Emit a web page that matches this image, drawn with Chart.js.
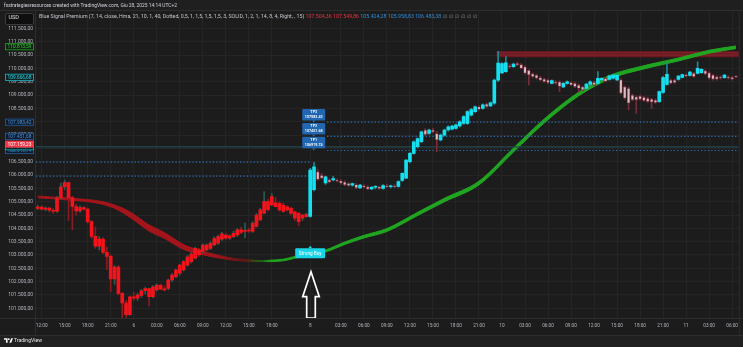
<!DOCTYPE html>
<html><head><meta charset="utf-8">
<script src="https://cdn.jsdelivr.net/npm/chart.js@4.4.1/dist/chart.umd.min.js"></script>
<style>
html,body{margin:0;padding:0;background:#1c1c1c;}
#wrap{position:relative;width:743px;height:347px;overflow:hidden;background:#1c1c1c;font-family:Roboto,"Noto Sans",sans-serif;}
#top{position:absolute;left:0;top:0;width:743px;height:11px;background:#1f1f1f;}
#foot{position:absolute;left:0;top:336px;width:743px;height:11px;background:#202020;}
#chart{position:absolute;left:0;top:0;}
.fit{position:absolute;left:0;top:0;white-space:nowrap;transform-origin:0 0;font-size:10px;line-height:1.2;display:inline-block;z-index:3;}
#usd{position:absolute;left:5px;top:12.5px;width:27px;height:10px;background:#0f0f0f;border:1px solid #3a3a3a;border-radius:2px;z-index:2;}
#logo{position:absolute;left:4px;top:338px;z-index:3;}
</style></head>
<body><div id="wrap">
<div id="top"></div><div id="foot"></div>
<canvas id="chart" width="743" height="347"></canvas>
<div id="usd"></div>
<div id="hdr" class="fit" style="color:#d1d4dc">fxstrategiesresources created with TradingView.com, Giu 28, 2025 14:14 UTC+2</div>
<div id="usdt" class="fit" style="color:#e0e0e0">USD</div>
<div id="legend" class="fit"></div>
<svg id="logo" width="9" height="5" viewBox="0 0 10 5"><path d="M0 0H4V5H2.2V1.6H0Z" fill="#fff"/><circle cx="5.3" cy="1" r="0.95" fill="#fff"/><path d="M6 5L8 0H10L8 5Z" fill="#fff"/></svg>
<div id="brand" class="fit" style="color:#e8e8e8">TradingView</div>
</div>
<script>
// ---------- DATA ----------
const candleOpen = [104750,104800,104720,104760,104680,104640,105140,105560,105720,105150,
104820,104650,104780,104720,104250,103700,103330,103600,103100,102950,
102100,102550,101560,101200,100760,101430,101380,101480,101660,101740,
101440,101690,101860,101720,101750,102060,102190,102320,102440,102620,
102750,102880,103190,103130,103190,103250,103380,103440,103590,103750,
103630,103690,103750,103940,103880,103920,103880,104070,104320,104570,
105000,104880,104960,104940,104870,104810,104750,104620,104560,104380,
104440,104450,105450,106120,105990,105700,105820,105820,105810,105780,
105740,105690,105620,105640,105520,105600,105560,105480,105540,105560,
105500,105600,105560,105590,105570,105800,105880,106500,106810,107060,
107250,107690,107560,107690,107560,107320,107500,107690,107720,107750,
107840,107940,107940,108250,108380,108560,108500,108660,108590,108700,
109560,109830,109880,110100,110070,110190,110150,110060,109930,109800,
109750,109660,109600,109560,109440,109500,109500,109310,109440,109470,
109440,109380,109310,109250,109400,109480,109440,109570,109630,109590,
109630,109570,109570,109315,109250,109000,108940,108960,108915,108880,
108850,108815,108750,109100,109400,109565,109565,109590,109665,109765,
109740,109815,109815,109840,109915,109840,109750,109690,109690,109650,
109690,109665,109700];
const candleHigh = [104870,104850,104820,104800,104740,105200,105700,105810,105740,105200,
104900,104850,104830,104760,104300,104050,103690,103650,103300,103000,
102600,102600,101600,101300,101460,101600,101560,101700,101800,101760,
101850,101920,101900,101830,102100,102300,102470,102650,102800,102980,
103100,103300,103250,103420,103420,103500,103680,103750,103850,103820,
103760,103900,104000,104050,104200,104000,104250,104550,104750,105380,
105100,105300,105150,105000,104950,104850,104800,104650,104600,104520,
104570,106250,106480,106200,106060,105960,105870,105950,105860,105820,
105780,105720,105700,105680,105650,105640,105600,105580,105600,105580,
105640,105650,105620,105640,105780,106080,106580,106850,107280,107400,
107650,107740,107720,107760,107640,107540,107720,107850,107870,107910,
108040,108230,108420,108500,108600,108600,108670,108700,108750,109600,
110640,110220,110440,110160,110200,110240,110180,110100,109960,109830,
109780,109700,109640,109600,109570,109540,109530,109470,109530,109510,
109470,109410,109340,109440,109530,109520,109880,109660,109660,109750,
109790,109800,109620,109350,109300,109040,108980,109000,108950,108920,
108880,108850,109160,109700,110200,109600,109600,109740,109790,109800,
109890,109850,110250,109990,109950,109870,109780,109720,109720,109780,
109720,109700,109730];
const candleLow = [104700,104680,104650,104620,104560,104600,105100,105450,104300,103940,
104500,104600,104680,104180,103620,103250,103180,103050,102450,101620,
101900,101500,100640,100560,100740,101300,101300,101420,101540,101090,
101400,101650,101700,101650,101700,102000,102150,102250,102400,102580,
102700,102850,102950,103080,103150,103200,103350,103400,103550,103580,
103580,103650,103700,103800,103640,103850,103850,104050,104300,104550,
104650,104850,104800,104650,104600,104650,104500,104300,104100,104300,
104420,104420,105400,105800,105850,105650,105700,105780,105740,105660,
105600,105570,105580,105480,105500,105520,105440,105450,105480,105460,
105470,105540,105520,105530,105540,105760,105860,106450,106780,107020,
107200,107480,107520,107580,106880,107280,107460,107650,107690,107720,
107800,107900,107900,108220,108350,108420,108470,108530,108560,108650,
109500,109800,109850,110020,110040,110100,109980,109780,109380,109660,
109600,109530,109470,109430,109420,109410,109130,109280,109410,109350,
109280,109120,109160,109220,109370,109350,109410,109540,109490,109560,
109600,109540,109030,108850,108440,108780,108315,108810,108760,108720,
108500,108690,108720,109060,109370,109410,109440,109560,109640,109690,
109710,109660,109790,109810,109760,109600,109560,109560,109600,109620,
109600,109560,109640];
const candleClose = [104800,104720,104760,104680,104640,105140,105560,105720,105150,104820,
104650,104780,104720,104250,103700,103330,103600,103100,102950,102100,
102550,101560,101200,100760,101430,101380,101500,101660,101740,101440,
101810,101870,101720,101690,102060,102250,102430,102620,102750,102930,
103030,103250,103000,103370,103370,103440,103620,103690,103790,103630,
103720,103810,103940,103850,103920,103900,104190,104500,104690,105000,
104700,105190,104810,104690,104630,104690,104560,104380,104250,104500,
104530,106190,106310,105830,105880,105930,105730,105870,105760,105690,
105630,105600,105680,105510,105620,105550,105470,105540,105560,105490,
105600,105560,105590,105560,105750,106060,106560,106810,107250,107370,
107620,107510,107690,107620,107320,107500,107690,107810,107840,107880,
108000,108190,108380,108460,108560,108460,108630,108560,108710,109560,
110200,110180,110210,110060,110160,110130,110000,109820,109750,109690,
109630,109560,109500,109460,109540,109440,109320,109440,109500,109380,
109310,109250,109190,109410,109500,109380,109630,109630,109510,109720,
109750,109750,109065,108880,108690,108815,108815,108840,108790,108750,
108730,108715,109130,109660,109780,109440,109465,109715,109765,109715,
109865,109690,110000,109965,109790,109630,109590,109590,109630,109750,
109630,109590,109667];

// ribbon (two HMA lines) sampled at bar indices
const ribbonIndex = [0,8,16,20,24,29,33,38,42,47,51,57,60,64,67,71,75,80,85,91,99,106,115,124,132,141,149,158,167,175,182];
const hmaFast = [105146,105065,104932,104747,104419,103897,103621,103210,103042,102893,102803,102750,102800,102842,102948,103077,103190,103484,103736,103992,104600,105128,105770,107014,108102,109110,109732,110102,110389,110682,110842];
const hmaSlow = [105206,105135,105022,104877,104619,104127,103841,103390,103182,102993,102873,102800,102750,102782,102878,102997,103110,103394,103636,103882,104480,104998,105630,106864,107952,108970,109602,109982,110279,110572,110742];

// axis ticks
const yTickValues = [101000,101500,102000,102500,103000,103500,104000,104500,105000,105500,106000,106500,107000,107500,108000,108500,109000,109500,110000,110500,111000,111500];
const xTickIndex = [1,7,13,19,25,31,37,43,49,55,61,71,79,85,91,97,103,109,115,121,127,133,139,145,151,157,163,169,175,181];
const xTickLabels = ['12:00','15:00','18:00','21:00','6','03:00','06:00','09:00','12:00','15:00','18:00','8','03:00','06:00','09:00','12:00','15:00','18:00','21:00','10','03:00','06:00','09:00','12:00','15:00','18:00','21:00','11','03:00','06:00'];

// signal + levels
const signalIndex = 71;            // "Strong Buy" bar
const tpNames = ['TP1','TP2','TP3'];
const tpLevels = [106919.74, 107451.68, 107983.42];
const entryLevels = [105958.83, 106483.38];
const priceLevel = 107060;
const stopLevel = 107159.23;
const emaLast = 110813.59;
const lastPrice = 109666.68;
const zoneStartIndex = 120;
const zoneLow = 110416;
const zoneHigh = 110653;
const legendName = 'Blue Signal Premium (7, 14, close, Hma, 21, 10, 1, 40, Dotted, 0,5, 1, 1,5, 1,5, 1,5, 3, SOLID, 1, 2, 1, 14, 8, 4, Right, , 15)';
const legendRed = ['107.504,36','107.549,86'];
const legendBlue = ['105.424,28','105.958,83','106.483,38'];
const legendNa = ['∅','∅','∅','∅','∅','∅'];

// ---------- helpers ----------
const fmtIT = v => { const [a,b] = v.toFixed(2).split('.'); return a.replace(/\B(?=(\d{3})+(?!\d))/g,'.') + ',' + b; };
const idx = candleOpen.map((_,i)=>i);
const up = i => candleClose[i] >= candleOpen[i];
const bull = i => i >= signalIndex;
const X_MIN = -0.48, X_MAX = 182.73, Y_MIN = 100636, Y_MAX = 112154;
const FONT = 'Roboto, "Noto Sans", sans-serif';

function ribbonPaint(c){
  const ch = c.chart, xs = ch.scales && ch.scales.x;
  if(!ch.chartArea || !xs) return '#a3141b';
  const g = ch.ctx.createLinearGradient(xs.getPixelForValue(46),0,xs.getPixelForValue(61),0);
  g.addColorStop(0,'#a3141b'); g.addColorStop(0.55,'#5c1614'); g.addColorStop(0.8,'#1d6a1a'); g.addColorStop(1,'#20a520');
  return g;
}
const hline = (x0,x1,v,color,dash,w) => ({type:'line',data:[{x:x0,y:v},{x:x1,y:v}],borderColor:color,borderDash:dash,borderWidth:w,pointRadius:0,fill:false,order:6});

const overlay = {
  id:'overlay',
  beforeDatasetsDraw(chart){
    const {ctx, chartArea:a, scales:{x,y}} = chart;
    const x0 = x.getPixelForValue(zoneStartIndex)-1.5, y0 = y.getPixelForValue(zoneHigh), y1 = y.getPixelForValue(zoneLow);
    ctx.save();
    ctx.fillStyle = 'rgba(112,24,32,0.85)';
    ctx.fillRect(x0, y0, a.right-x0, y1-y0);
    ctx.strokeStyle = 'rgba(165,50,60,0.7)'; ctx.lineWidth = 0.6;
    for(let k=1;k<4;k++){ const yy=y0+(y1-y0)*k/4; ctx.beginPath(); ctx.moveTo(x0,yy); ctx.lineTo(a.right,yy); ctx.stroke(); }
    ctx.restore();
  },
  afterDatasetsDraw(chart){
    const {ctx, scales:{x,y}} = chart;
    ctx.save();
    // TP labels stacked, pointer at TP1 level
    const px = x.getPixelForValue(signalIndex+1)-0.3;
    const h=11.5, w=23, gap=2.3;
    let bottom = y.getPixelForValue(tpLevels[0]) - gap;
    for(let k=0;k<tpLevels.length;k++){
      const top = bottom - h;
      ctx.fillStyle = '#2166b0';
      ctx.beginPath(); ctx.roundRect(px-w/2, top, w, h, 1.2); ctx.fill();
      ctx.beginPath(); ctx.moveTo(px-1.7,bottom); ctx.lineTo(px+1.7,bottom); ctx.lineTo(px,bottom+gap); ctx.closePath(); ctx.fill();
      ctx.fillStyle = '#ffffff'; ctx.font = '600 3.7px '+FONT; ctx.textAlign='center'; ctx.textBaseline='middle';
      ctx.fillText(tpNames[k], px, top+h*0.3);
      ctx.fillText(tpLevels[k].toFixed(2), px, top+h*0.72);
      bottom = top - gap;
    }
    // Strong Buy label
    const sx = x.getPixelForValue(signalIndex);
    const sy = y.getPixelForValue(103350);
    ctx.fillStyle = '#19d3e6';
    ctx.beginPath(); ctx.moveTo(sx, sy); ctx.lineTo(sx+2, sy+2.6); ctx.lineTo(sx-2, sy+2.6); ctx.closePath(); ctx.fill();
    ctx.beginPath(); ctx.roundRect(sx-15, sy+2.6, 30, 10, 1.2); ctx.fill();
    ctx.fillStyle = '#ffffff'; ctx.font = '4.7px '+FONT; ctx.textAlign='center'; ctx.textBaseline='middle';
    ctx.fillText('Strong Buy', sx, sy+7.8);
    // hand-drawn arrow
    const ax = x.getPixelForValue(signalIndex)+0.8, ay = y.getPixelForValue(102373);
    ctx.strokeStyle = '#ffffff'; ctx.lineWidth = 1.7; ctx.lineJoin='miter';
    ctx.beginPath();
    ctx.moveTo(ax, ay); ctx.lineTo(ax+8.3, ay+25); ctx.lineTo(ax+4.3, ay+25); ctx.lineTo(ax+4.3, ay+46.5);
    ctx.lineTo(ax-4.3, ay+46.5); ctx.lineTo(ax-4.3, ay+25); ctx.lineTo(ax-8.3, ay+25); ctx.closePath();
    ctx.stroke();
    ctx.restore();
  },
  afterDraw(chart){
    const {ctx, chartArea:a, scales:{y}} = chart;
    ctx.save();
    ctx.strokeStyle = '#2d2d2d'; ctx.lineWidth = 1;
    ctx.beginPath(); ctx.moveTo(0,10.5); ctx.lineTo(743,10.5);
    ctx.moveTo(a.left-0.5,10.5); ctx.lineTo(a.left-0.5,336);
    ctx.moveTo(a.right+0.5,10.5); ctx.lineTo(a.right+0.5,336);
    ctx.moveTo(0,a.bottom+0.5); ctx.lineTo(743,a.bottom+0.5);
    ctx.moveTo(0,335.5); ctx.lineTo(743,335.5); ctx.stroke();
    const box = (v, fill, stroke, text) => {
      const yy = y.getPixelForValue(v), bx=5, bw=29, bh=7;
      ctx.fillStyle = fill; ctx.fillRect(bx, yy-bh/2, bw, bh);
      if(stroke){ ctx.strokeStyle = stroke; ctx.lineWidth = 0.8; ctx.strokeRect(bx+0.4, yy-bh/2+0.4, bw-0.8, bh-0.8); }
      ctx.fillStyle = text; ctx.font = '4.8px '+FONT; ctx.textAlign='center'; ctx.textBaseline='middle';
      ctx.fillText(fmtIT(v), bx+bw/2, yy+0.3);
    };
    box(emaLast, '#0f2410', '#22a322', '#3fcf3f');
    box(lastPrice, '#0d2326', '#17b7c6', '#2fd6e4');
    box(tpLevels[2], '#0f1b2b', '#2a5f9e', '#4e95dc');
    box(tpLevels[1], '#0f1b2b', '#2a5f9e', '#4e95dc');
    box(tpLevels[0], '#0f1b2b', '#2a5f9e', '#4e95dc');
    box(priceLevel, '#0d2326', '#17b7c6', '#2fd6e4');
    box(stopLevel, '#f23645', null, '#ffffff');
    ctx.restore();
  }
};

const wickData = idx.map(i=>({x:i, y:[candleLow[i], candleHigh[i]]}));
const bodyData = idx.map(i=>({x:i, y:[Math.min(candleOpen[i],candleClose[i]), Math.max(candleOpen[i],candleClose[i])]}));

new Chart(document.getElementById('chart'), {
  type:'bar',
  data:{ datasets:[
    {type:'line', data:ribbonIndex.map((v,k)=>({x:v,y:hmaSlow[k]})), borderColor:ribbonPaint, borderWidth:1, pointRadius:0, cubicInterpolationMode:'monotone', fill:false, order:20},
    {type:'line', data:ribbonIndex.map((v,k)=>({x:v,y:hmaFast[k]})), borderColor:ribbonPaint, backgroundColor:ribbonPaint, borderWidth:1, pointRadius:0, cubicInterpolationMode:'monotone', fill:'-1', order:19},
    hline(X_MIN, X_MAX, priceLevel, '#21484f', [], 1.2),
    hline(X_MIN, signalIndex, entryLevels[0], '#2c6cb4', [1.3,2.1], 1.2),
    hline(X_MIN, signalIndex, entryLevels[1], '#2c6cb4', [1.3,2.1], 1.2),
    hline(75.4, X_MAX, tpLevels[0], '#2c6cb4', [1.3,2.1], 1.2),
    hline(75.4, X_MAX, tpLevels[1], '#2c6cb4', [1.3,2.1], 1.2),
    hline(75.4, X_MAX, tpLevels[2], '#2c6cb4', [1.3,2.1], 1.2),
    {type:'bar', data:wickData, barThickness:1, grouped:false, order:3,
      backgroundColor:c=>{const i=c.dataIndex; if(i===undefined) return '#888'; return bull(i)?(up(i)?'#1b8a93':'#7a2a38'):(up(i)?'#2c5954':'#8c1b20');}},
    {type:'bar', data:bodyData, barThickness:3, grouped:false, order:2, minBarLength:1, borderSkipped:false,
      backgroundColor:c=>{const i=c.dataIndex; if(i===undefined) return '#888'; return bull(i)?(up(i)?'#16e0ef':'#dcbcc4'):'#f3141b';},
      borderColor:c=>{const i=c.dataIndex; return (i!==undefined && bull(i) && !up(i))?'#6d2634':'rgba(0,0,0,0)';},
      borderWidth:c=>{const i=c.dataIndex; return (i!==undefined && bull(i) && !up(i))?0.8:0;}}
  ]},
  options:{
    responsive:false, animation:false, devicePixelRatio:1,
    layout:{padding:{top:11,right:2,left:0,bottom:0}},
    plugins:{legend:{display:false}, tooltip:{enabled:false}},
    scales:{
      x:{type:'linear', min:X_MIN, max:X_MAX, offset:false,
        afterBuildTicks:s=>{s.ticks = xTickIndex.map(v=>({value:v}));},
        afterFit:s=>{s.height = 29;},
        ticks:{autoSkip:false, maxRotation:0, padding:5, color:'#b2b5be', font:{size:4.7, family:FONT},
          callback:(v,k)=>xTickLabels[k]},
        grid:{color:'#252525', drawTicks:false, offset:false}, border:{display:false}},
      y:{position:'left', min:Y_MIN, max:Y_MAX,
        afterBuildTicks:s=>{s.ticks = yTickValues.map(v=>({value:v}));},
        afterFit:s=>{s.width = 36;},
        ticks:{padding:3, color:'#b2b5be', font:{size:5, family:FONT}, callback:v=>fmtIT(v)},
        grid:{color:'#252525', drawTicks:false}, border:{display:false}}
    }
  },
  plugins:[overlay]
});

// ---------- HTML text (header, legend, footer) ----------
const lg = document.getElementById('legend');
const addSpan = (t,c) => { const s=document.createElement('span'); s.textContent=t; s.style.color=c; lg.appendChild(s); lg.appendChild(document.createTextNode('  ')); };
addSpan(legendName, '#c4c7cf');
legendRed.forEach(t=>addSpan(t,'#e8323f'));
legendBlue.forEach(t=>addSpan(t,'#2f8ddb'));
addSpan(legendNa.join(' '), '#8a8a8a');
function fitText(id, x, cy, targetW){
  const el = document.getElementById(id);
  el.style.transform = 'none';
  const r = el.getBoundingClientRect();
  const k = targetW / r.width;
  el.style.transform = `translate(${x}px, ${cy - r.height*k/2}px) scale(${k})`;
}
fitText('hdr', 4, 5.6, 173);
fitText('legend', 39, 16.8, 438.5);
fitText('usdt', 8.5, 17.8, 10.5);
fitText('brand', 14, 340.5, 28);
</script>
</body></html>
